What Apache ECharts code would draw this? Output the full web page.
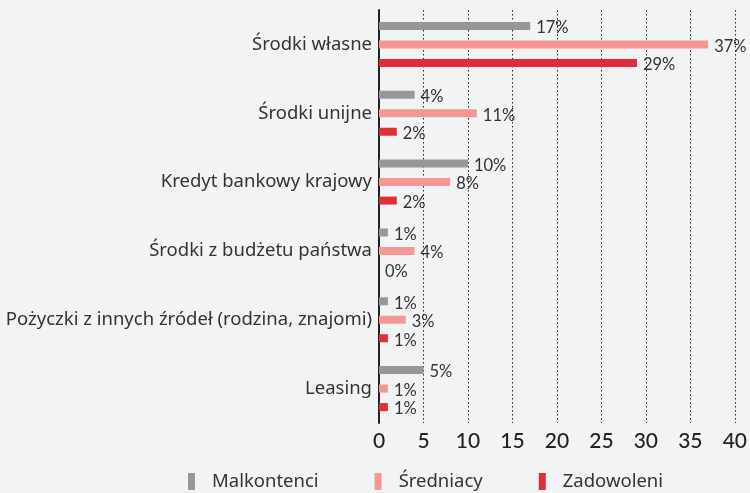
<!DOCTYPE html>
<html><head><meta charset="utf-8">
<script src="https://cdn.jsdelivr.net/npm/echarts@6/dist/echarts.min.js"></script>
<style>html,body{margin:0;padding:0;background:#f2f3f5}#c{width:750px;height:493px}</style>
</head><body><div id="c"></div>
<script>
const categories = ['Środki własne','Środki unijne','Kredyt bankowy krajowy','Środki z budżetu państwa','Pożyczki z innych źródeł (rodzina, znajomi)','Leasing'];
const seriesNames = ['Malkontenci','Średniacy','Zadowoleni'];
const malkontenci = [17,4,10,1,1,5];
const sredniacy = [37,11,8,4,3,1];
const zadowoleni = [29,2,2,0,1,1];
const xTicks = [0,5,10,15,20,25,30,35,40];
const colors = ['#979799','#f59795','#e02d3a'];

const chart = echarts.init(document.getElementById('c'));
const vals = [malkontenci, sredniacy, zadowoleni];
chart.setOption({
  backgroundColor:'#f2f3f5',
  animation:false,
  grid:{left:379,right:14,top:10,bottom:70,containLabel:false},
  legend:{
    top:467,left:183,icon:'rect',itemWidth:7,itemHeight:17,itemGap:56,
    textStyle:{fontFamily:'Noto Sans',fontSize:18.5,color:'#333',padding:[0,0,0,12]},
    data:seriesNames
  },
  xAxis:{
    type:'value',min:xTicks[0],max:xTicks[xTicks.length-1],interval:5,
    axisLine:{show:false},axisTick:{show:false},
    axisLabel:{fontFamily:'Lato',fontSize:21,fontWeight:500,color:'#222',margin:8},
    splitLine:{show:true,lineStyle:{type:[1.5,2.5],color:'#222',width:1}}
  },
  yAxis:{
    type:'category',inverse:true,data:categories,
    axisLine:{show:true,lineStyle:{color:'#222',width:2}},
    axisTick:{show:false},
    axisLabel:{fontFamily:'Noto Sans',fontSize:18.5,color:'#333',margin:7}
  },
  series: seriesNames.map((n,i)=>({
    name:n,type:'bar',data:vals[i],barWidth:8,barGap:'131%',barCategoryGap:'35%',
    itemStyle:{color:colors[i]},
    label:{show:true,position:'right',distance:6,offset:[0,2],formatter:'{c}%',fontFamily:'Lato',fontSize:16.5,color:'#333'}
  }))
});
</script></body></html>
